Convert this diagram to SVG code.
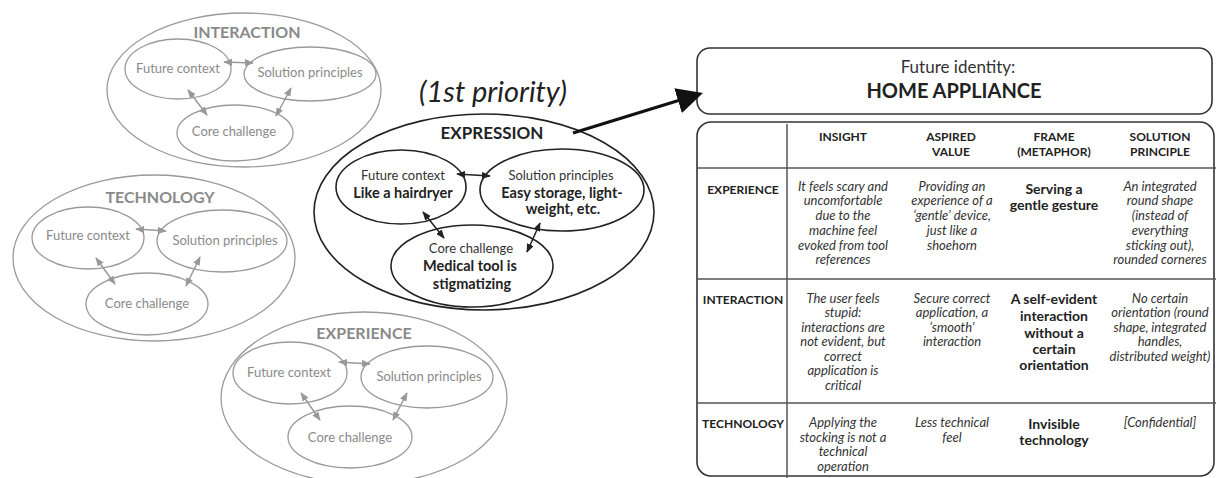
<svg xmlns="http://www.w3.org/2000/svg" width="1216" height="478" viewBox="0 0 1216 478">
<style>
text{font-family:Lato,"Noto Sans",sans-serif;text-anchor:middle}
.g{fill:none;stroke:#9a9a9a;stroke-width:1.3}
.gt{fill:#8a8a8a;font-size:13px}
.gh{fill:#8a8a8a;font-size:16px;font-weight:700}
.b{fill:none;stroke:#222;stroke-width:1.6}
.bt{fill:#333;font-size:13px}
.bb{fill:#222;font-size:14.5px;font-weight:700}
.ga{stroke:#999;stroke-width:1.5;marker-start:url(#ag);marker-end:url(#ag)}
.ba{stroke:#222;stroke-width:1.5;marker-start:url(#ab);marker-end:url(#ab)}
.th{fill:#222;font-size:12px;font-weight:700}
.ti{fill:#333;font-size:13px;font-style:italic}
.tb{fill:#222;font-size:14px;font-weight:700}
.tl{stroke:#555;stroke-width:1.5}
</style>
<defs>
<marker id="ag" viewBox="0 0 10 8" refX="9" refY="4" markerWidth="9" markerHeight="7.2" orient="auto-start-reverse" markerUnits="userSpaceOnUse"><path d="M0,0 L10,4 L0,8 z" fill="#999"/></marker>
<marker id="ab" viewBox="0 0 10 8" refX="9" refY="4" markerWidth="9" markerHeight="7.2" orient="auto-start-reverse" markerUnits="userSpaceOnUse"><path d="M0,0 L10,4 L0,8 z" fill="#222"/></marker>
<marker id="big" viewBox="0 0 10 10" refX="5.4" refY="5" markerWidth="26" markerHeight="26" orient="auto" markerUnits="userSpaceOnUse"><path d="M0,0 L10,5 L0,10 z" fill="#111"/></marker>
</defs>

<g id="interaction">
<ellipse class="g" cx="244" cy="90" rx="137" ry="77"/>
<text class="gh" x="247" y="38">INTERACTION</text>
<ellipse class="g" cx="178" cy="69" rx="53" ry="30"/>
<text class="gt" x="178" y="73">Future context</text>
<ellipse class="g" cx="310" cy="74" rx="66" ry="27"/>
<text class="gt" x="310" y="77">Solution principles</text>
<ellipse class="g" cx="235" cy="133" rx="58" ry="28"/>
<text class="gt" x="234" y="136">Core challenge</text>
</g>

<g id="technology">
<ellipse class="g" cx="154" cy="258" rx="141" ry="83"/>
<text class="gh" x="160" y="203">TECHNOLOGY</text>
<ellipse class="g" cx="88" cy="238" rx="56" ry="31"/>
<text class="gt" x="88" y="240">Future context</text>
<ellipse class="g" cx="222" cy="241" rx="65" ry="31"/>
<text class="gt" x="225" y="245">Solution principles</text>
<ellipse class="g" cx="147" cy="304" rx="61" ry="31"/>
<text class="gt" x="147" y="308">Core challenge</text>
</g>

<g id="experience">
<ellipse class="g" cx="364" cy="398" rx="143" ry="86"/>
<text class="gh" x="364" y="339">EXPERIENCE</text>
<ellipse class="g" cx="290" cy="373" rx="57" ry="31"/>
<text class="gt" x="289" y="377">Future context</text>
<ellipse class="g" cx="427" cy="377" rx="66" ry="31"/>
<text class="gt" x="429" y="381">Solution principles</text>
<ellipse class="g" cx="350" cy="437" rx="62" ry="31"/>
<text class="gt" x="350" y="442">Core challenge</text>
</g>

<g id="expression">
<text x="493" y="102" style="fill:#222;font-size:29px;font-style:italic">(1st priority)</text>
<ellipse class="b" cx="484" cy="212" rx="170" ry="98"/>
<text x="492" y="139" style="fill:#222;font-size:17px;font-weight:700">EXPRESSION</text>
<ellipse class="b" cx="401" cy="187" rx="65" ry="37"/>
<text class="bt" x="403" y="180">Future context</text>
<text class="bb" x="403" y="198">Like a hairdryer</text>
<ellipse class="b" cx="562" cy="190" rx="82" ry="41"/>
<text class="bt" x="561" y="180">Solution principles</text>
<text class="bb" x="562" y="198">Easy storage, light-</text>
<text class="bb" x="563" y="214">weight, etc.</text>
<ellipse class="b" cx="472" cy="266" rx="81" ry="41"/>
<text class="bt" x="471" y="253">Core challenge</text>
<text class="bb" x="470" y="271">Medical tool is</text>
<text class="bb" x="472" y="289">stigmatizing</text>
</g>

<g id="identity">
<rect x="697" y="48" width="515" height="66" rx="13" fill="#fff" stroke="#333" stroke-width="1.6"/>
<text x="958" y="73" style="fill:#333;font-size:17px">Future identity:</text>
<text x="954" y="98" style="fill:#222;font-size:20px;font-weight:700">HOME APPLIANCE</text>
</g>

<g id="table">
<rect x="697" y="122" width="517" height="354" rx="14" fill="none" stroke="#333" stroke-width="1.6"/>
<line class="tl" x1="787" y1="124" x2="787" y2="478"/>
<line class="tl" x1="697" y1="168" x2="1216" y2="168"/>
<line class="tl" x1="697" y1="279" x2="1216" y2="279"/>
<line class="tl" x1="697" y1="403" x2="1216" y2="403"/>
<text class="th" x="843" y="141">INSIGHT</text>
<text class="th" x="951" y="141">ASPIRED</text>
<text class="th" x="951" y="156">VALUE</text>
<text class="th" x="1054" y="141">FRAME</text>
<text class="th" x="1054" y="156">(METAPHOR)</text>
<text class="th" x="1160" y="141">SOLUTION</text>
<text class="th" x="1160" y="156">PRINCIPLE</text>

<text class="th" x="743" y="194">EXPERIENCE</text>
<text class="ti" x="843" y="191">It feels scary and</text>
<text class="ti" x="843" y="205">uncomfortable</text>
<text class="ti" x="843" y="220">due to the</text>
<text class="ti" x="843" y="235">machine feel</text>
<text class="ti" x="843" y="250">evoked from tool</text>
<text class="ti" x="843" y="264">references</text>
<text class="ti" x="952" y="191">Providing an</text>
<text class="ti" x="952" y="205">experience of a</text>
<text class="ti" x="952" y="220">‘gentle’ device,</text>
<text class="ti" x="952" y="235">just like a</text>
<text class="ti" x="952" y="250">shoehorn</text>
<text class="tb" x="1054" y="194">Serving a</text>
<text class="tb" x="1054" y="210">gentle gesture</text>
<text class="ti" x="1160" y="191">An integrated</text>
<text class="ti" x="1160" y="205">round shape</text>
<text class="ti" x="1160" y="220">(instead of</text>
<text class="ti" x="1160" y="235">everything</text>
<text class="ti" x="1160" y="250">sticking out),</text>
<text class="ti" x="1160" y="264">rounded corneres</text>

<text class="th" x="743" y="304">INTERACTION</text>
<text class="ti" x="843" y="303">The user feels</text>
<text class="ti" x="843" y="317">stupid:</text>
<text class="ti" x="843" y="332">interactions are</text>
<text class="ti" x="843" y="346">not evident, but</text>
<text class="ti" x="843" y="361">correct</text>
<text class="ti" x="843" y="375">application is</text>
<text class="ti" x="843" y="390">critical</text>
<text class="ti" x="952" y="303">Secure correct</text>
<text class="ti" x="952" y="317">application, a</text>
<text class="ti" x="952" y="332">‘smooth’</text>
<text class="ti" x="952" y="346">interaction</text>
<text class="tb" x="1054" y="304">A self-evident</text>
<text class="tb" x="1054" y="321">interaction</text>
<text class="tb" x="1054" y="338">without a</text>
<text class="tb" x="1054" y="354">certain</text>
<text class="tb" x="1054" y="370">orientation</text>
<text class="ti" x="1160" y="303">No certain</text>
<text class="ti" x="1160" y="317">orientation (round</text>
<text class="ti" x="1160" y="332">shape, integrated</text>
<text class="ti" x="1160" y="346">handles,</text>
<text class="ti" x="1160" y="361">distributed weight)</text>

<text class="th" x="743" y="428">TECHNOLOGY</text>
<text class="ti" x="843" y="427">Applying the</text>
<text class="ti" x="843" y="442">stocking is not a</text>
<text class="ti" x="843" y="456">technical</text>
<text class="ti" x="843" y="471">operation</text>
<text class="ti" x="952" y="427">Less technical</text>
<text class="ti" x="952" y="442">feel</text>
<text class="tb" x="1054" y="429">Invisible</text>
<text class="tb" x="1054" y="445">technology</text>
<text class="ti" x="1160" y="427">[Confidential]</text>
</g>

<g id="connectors">
<line class="ga" x1="224" y1="62" x2="253" y2="63"/>
<line class="ga" x1="188" y1="90" x2="207" y2="115"/>
<line class="ga" x1="291" y1="88" x2="276" y2="116"/>
<line class="ga" x1="136" y1="229" x2="166" y2="231"/>
<line class="ga" x1="96" y1="258" x2="115" y2="284"/>
<line class="ga" x1="200" y1="257" x2="186" y2="286"/>
<line class="ga" x1="339" y1="362" x2="370" y2="364"/>
<line class="ga" x1="301" y1="393" x2="320" y2="420"/>
<line class="ga" x1="407" y1="393" x2="393" y2="420"/>
<line class="ba" x1="457" y1="174" x2="490" y2="176"/>
<line class="ba" x1="423" y1="212" x2="444" y2="238"/>
<line class="ba" x1="540" y1="223" x2="527" y2="252"/>
<line x1="573" y1="133" x2="691.5" y2="96.5" stroke="#111" stroke-width="3.2" marker-end="url(#big)"/>
</g>
</svg>
